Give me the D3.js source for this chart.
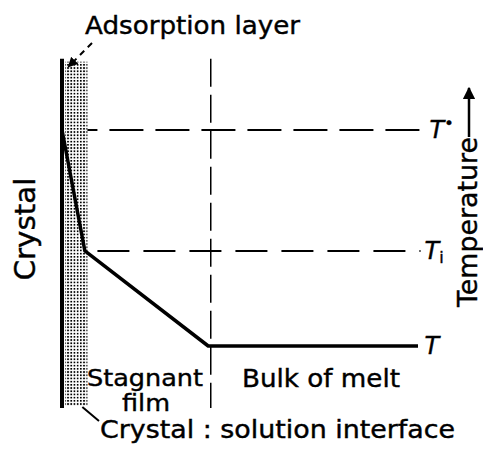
<!DOCTYPE html>
<html>
<head>
<meta charset="utf-8">
<script src="https://cdn.jsdelivr.net/npm/d3@7"></script>
<style>
  html, body { margin: 0; padding: 0; background: #fff; }
  svg { display: block; }
  text { font-family: "DejaVu Sans", sans-serif; fill: #000; stroke: #000; stroke-width: 0.4; }
</style>
</head>
<body>
<div id="root"></div>
<script>
'use strict';

var width = 483;
var height = 449;

// distance from the crystal face (arbitrary units) and temperature (T = 0, T* = 1)
var profileDist = [0, 0.9, 5.75, 14];
var profileTemp = [1, 0.44, 0, 0];

var levelNames = ['T*', 'Ti', 'T'];
var levelTemps = [1, 0.44, 0];

var adsorptionEdge = 1;
var filmEdge = 5.85;
var distMax = 14.1;
var tempTop = 1.33;
var tempBottom = -0.287;

var x = d3.scaleLinear().domain([0, 14]).range([62, 418]);
var y = d3.scaleLinear().domain([0, 1]).range([346, 130]);

var svg = d3.select('#root')
  .append('svg')
  .attr('width', width)
  .attr('height', height);

var defs = svg.append('defs');

defs.append('pattern')
  .attr('id', 'dots')
  .attr('patternUnits', 'userSpaceOnUse')
  .attr('width', 3.2)
  .attr('height', 3.2)
  .append('rect')
  .attr('width', 1.7)
  .attr('height', 1.7)
  .attr('fill', '#000');

defs.append('marker')
  .attr('id', 'arrow')
  .attr('viewBox', '0 0 10 10')
  .attr('refX', 9)
  .attr('refY', 5)
  .attr('markerWidth', 5)
  .attr('markerHeight', 5)
  .attr('orient', 'auto')
  .append('path')
  .attr('d', 'M0,0 L10,5 L0,10 z')
  .attr('fill', '#000');

// stippled adsorption layer
svg.append('rect')
  .attr('x', x(0.12))
  .attr('y', y(tempTop) + 3)
  .attr('width', x(adsorptionEdge) - x(0.12))
  .attr('height', y(tempBottom) - y(tempTop) - 5)
  .attr('fill', 'url(#dots)');

// crystal face
svg.append('line')
  .attr('x1', x(0)).attr('x2', x(0))
  .attr('y1', y(tempTop)).attr('y2', y(tempBottom))
  .attr('stroke', '#000')
  .attr('stroke-width', 4);

// boundary of stagnant film
svg.append('line')
  .attr('x1', x(filmEdge)).attr('x2', x(filmEdge))
  .attr('y1', y(tempTop)).attr('y2', y(tempBottom))
  .attr('stroke', '#000')
  .attr('stroke-width', 1.5)
  .attr('stroke-dasharray', '28,8');

// dashed reference levels T* and Ti
svg.selectAll('line.level')
  .data(levelTemps.slice(0, 2))
  .enter()
  .append('line')
  .attr('class', 'level')
  .attr('x1', x(adsorptionEdge))
  .attr('x2', x(distMax))
  .attr('y1', d => y(d))
  .attr('y2', d => y(d))
  .attr('stroke', '#000')
  .attr('stroke-width', 2)
  .attr('stroke-dasharray', (d, i) => i === 0 ? '34,12' : '32,14')
  .attr('stroke-dashoffset', (d, i) => i === 0 ? -22 : -10);

// temperature profile
var line = d3.line()
  .x(d => x(d[0]))
  .y(d => y(d[1]));

svg.append('path')
  .datum(d3.zip(profileDist, profileTemp))
  .attr('d', line)
  .attr('fill', 'none')
  .attr('stroke', '#000')
  .attr('stroke-width', 3.5)
  .attr('stroke-linejoin', 'round');

// level labels
var labels = svg.selectAll('text.level')
  .data(levelNames)
  .enter()
  .append('text')
  .attr('class', 'level')
  .attr('x', (d, i) => x(distMax) + (i === 0 ? 9 : 4))
  .attr('y', (d, i) => y(levelTemps[i]) + 8)
  .attr('font-size', 24)
  .attr('font-style', 'italic');

labels.append('tspan').text('T');
labels.filter(d => d === 'T*')
  .append('tspan')
  .attr('dy', -9)
  .attr('font-size', 16)
  .attr('font-style', 'normal')
  .text('\u2022');
labels.filter(d => d === 'Ti')
  .append('tspan')
  .attr('dy', 4)
  .attr('font-size', 16)
  .attr('font-style', 'normal')
  .text('i');

// texts
function label(str, px, py, size, len, anchor) {
  return svg.append('text')
    .attr('x', px)
    .attr('y', py)
    .attr('font-size', size)
    .attr('text-anchor', anchor || 'start')
    .attr('textLength', len)
    .attr('lengthAdjust', 'spacingAndGlyphs')
    .text(str);
}

label('Adsorption layer', 85, 34, 24, 215);

svg.append('line')
  .attr('x1', 92).attr('y1', 43)
  .attr('x2', x(0.25)).attr('y2', y(tempTop) + 8)
  .attr('stroke', '#000')
  .attr('stroke-width', 2)
  .attr('stroke-dasharray', '6,5')
  .attr('marker-end', 'url(#arrow)');

label('Crystal', 0, 0, 28, 103, 'middle')
  .attr('transform', 'translate(35,229) rotate(-90)');

label('Temperature', 0, 0, 26, 170, 'middle')
  .attr('transform', 'translate(477,222) rotate(-90)');

svg.append('line')
  .attr('x1', 469).attr('x2', 469)
  .attr('y1', 137).attr('y2', 88)
  .attr('stroke', '#000')
  .attr('stroke-width', 2.5)
  .attr('marker-end', 'url(#arrow)');

label('Stagnant', 87, 386, 23, 116);
label('film', 122, 411, 23, 48);
label('Bulk of melt', 242, 387, 24, 158);

svg.append('line')
  .attr('x1', x(0.8)).attr('y1', y(tempBottom) - 1)
  .attr('x2', 99).attr('y2', 421)
  .attr('stroke', '#000')
  .attr('stroke-width', 2);

label('Crystal : solution interface', 100, 438, 24, 355);
</script>
</body>
</html>
